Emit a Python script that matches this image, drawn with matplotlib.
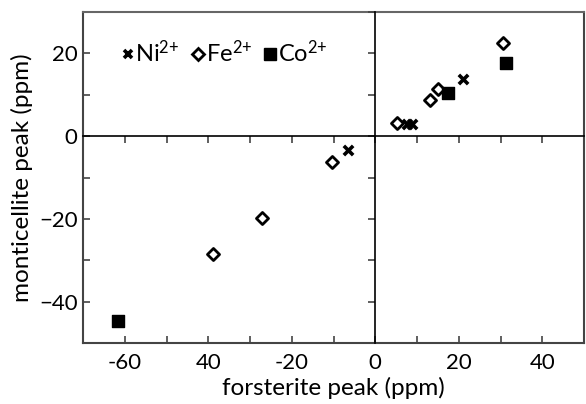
import matplotlib
matplotlib.use("Agg")
import matplotlib.pyplot as plt
from matplotlib.lines import Line2D

plt.rcParams['font.family'] = ['Lato', 'DejaVu Sans']
plt.rcParams['mathtext.fontset'] = 'custom'
plt.rcParams['mathtext.rm'] = 'Lato'
plt.rcParams['mathtext.default'] = 'regular'

# data
ni_x = [-6.5, 7.6, 8.9, 21.1]
ni_y = [-3.4, 2.9, 2.9, 13.9]
fe_x = [-38.8, -27.1, -10.3, 5.3, 13.2, 15.1, 30.5]
fe_y = [-28.5, -19.8, -6.3, 3.2, 8.8, 11.4, 22.4]
co_x = [-61.6, 17.5, 31.2]
co_y = [-44.6, 10.5, 17.6]

x_ticks = [-60, -40, -20, 0, 20, 40]
x_tick_labels = ["-60", "40", "-20", "0", "20", "40"]
y_ticks = [-40, -20, 0, 20]
labels = [r"Ni$^{\text{2+}}$", r"Fe$^{\text{2+}}$", r"Co$^{\text{2+}}$"]

fig = plt.figure(figsize=(5.86, 4.04), dpi=100)
rect = [83 / 586, 1 - 343 / 404, 501 / 586, 331 / 404]
ax = fig.add_axes(rect)

ax.scatter(ni_x, ni_y, marker="x", s=45, c="black", linewidths=2.6, zorder=3)
ax.scatter(fe_x, fe_y, marker="D", s=38, facecolors="white", edgecolors="black",
           linewidths=2.0, zorder=3)
ax.scatter(co_x, co_y, marker="s", s=85, c="black", zorder=3)

ax.set_xlim(-70, 50)
ax.set_ylim(-50, 30)
ax.set_xticks(x_ticks)
ax.set_xticklabels(x_tick_labels)
ax.set_xticks(range(-70, 51, 10), minor=True)
ax.set_yticks(y_ticks)
ax.set_yticks(range(-50, 31, 10), minor=True)
ax.tick_params(axis="both", which="both", direction="in", length=5, width=1.2,
               labelsize=16, color="#444444", top=False, right=False)
ax.tick_params(axis="x", pad=7)
ax.tick_params(axis="y", pad=4)
for s in ax.spines.values():
    s.set_linewidth(1.5)
    s.set_color("#444444")
ax.spines["top"].set_color("#666666")

ax.set_xlabel("forsterite peak (ppm)", fontsize=17.5, labelpad=3)
ax.set_ylabel("monticellite peak (ppm)", fontsize=17.5, labelpad=4)

# second axes only for the zero lines with their ticks
zx = fig.add_axes(rect, sharex=ax, sharey=ax, frameon=True)
zx.patch.set_visible(False)
zx.spines["top"].set_visible(False)
zx.spines["right"].set_visible(False)
zx.spines["left"].set_position(("data", 0))
zx.spines["bottom"].set_position(("data", 0))
for side in ["left", "bottom"]:
    zx.spines[side].set_linewidth(1.2)
    zx.spines[side].set_color("black")
zx.tick_params(axis="both", which="both", direction="out", length=5, width=1.2,
               color="#444444", labelleft=False, labelbottom=False)

handles = [
    Line2D([], [], marker="x", ls="", color="black", markersize=6, markeredgewidth=2.6),
    Line2D([], [], marker="D", ls="", markerfacecolor="white", markeredgecolor="black",
           markersize=6, markeredgewidth=2.0),
    Line2D([], [], marker="s", ls="", color="black", markersize=9),
]
leg = ax.legend(handles, labels, loc="center left", bbox_to_anchor=(0.055, 0.876),
                ncol=3, frameon=False, fontsize=17, handlelength=0.45,
                handletextpad=0.1, columnspacing=0.55, borderpad=0)
leg.set_zorder(5)

fig.savefig("out.png", dpi=100)
